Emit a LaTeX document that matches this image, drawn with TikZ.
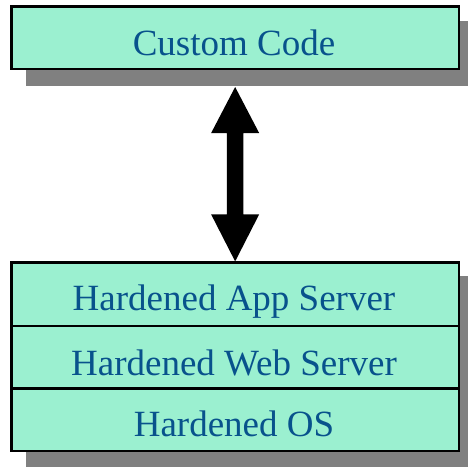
\documentclass[tikz,border=0pt]{standalone}
\usepackage{fontspec}
\setmainfont{Liberation Serif}
\usetikzlibrary{calc}
\definecolor{boxfill}{RGB}{155,240,208}
\definecolor{boxtext}{RGB}{8,82,140}
\definecolor{shade}{RGB}{128,128,128}
\tikzset{
  layerbox/.style={draw=black, line width=2.6pt, fill=boxfill, inner sep=0pt},
  shadowbox/.style={fill=shade},
  label/.style={text=boxtext, anchor=base, inner sep=0pt, font=\fontsize{37}{40}\selectfont},
  bigarrow/.style={fill=black}
}
\begin{document}
\begin{tikzpicture}[x=1pt, y=-1pt]
  \useasboundingbox (0,0) rectangle (468,467);
  % drop shadows
  \fill[shadowbox] (25.5,20.5) rectangle (468,86);
  \fill[shadowbox] (25.5,276) rectangle (468,467);
  % top layer
  \node[layerbox, minimum width=447.7pt, minimum height=62.6pt] (custom) at (235.15,37.5) {};
  \node[label] (customtxt) at (234,55) {Custom Code};
  % stacked platform layers
  \node[layerbox, minimum width=447.7pt, minimum height=63.3pt] (app) at (235.15,294.35) {};
  \node[layerbox, minimum width=447.7pt, minimum height=62.7pt] (web) at (235.15,357.35) {};
  \node[layerbox, minimum width=447.7pt, minimum height=62.3pt] (os) at (235.15,419.85) {};
  \node[label] (apptxt) at (234,310) {Hardened App Server};
  \node[label] (webtxt) at (234,375) {Hardened Web Server};
  \node[label] (ostxt) at (234,436) {Hardened OS};
  % double-headed arrow between the code and the platform
  \coordinate (up) at (custom.south |- 0,87);
  \coordinate (dn) at (app.north);
  \fill[bigarrow] (up) -- ++(24,46) -- ++(-15.7,0) -- ($(dn)+(8.3,-47)$)
    -- ++(15.7,0) -- (dn) -- ++(-24,-47) -- ++(15.7,0) -- ($(up)+(-8.3,46)$)
    -- ++(-15.7,0) -- cycle;
\end{tikzpicture}
\end{document}
